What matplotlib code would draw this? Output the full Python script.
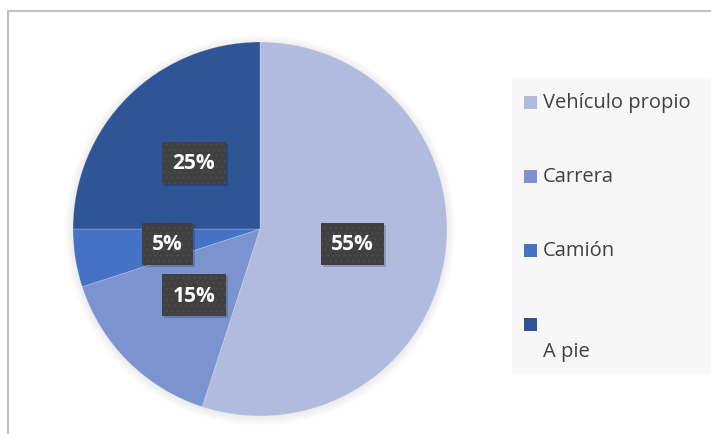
import numpy as np
import matplotlib.pyplot as plt
from matplotlib.patches import Rectangle, Circle
from matplotlib.transforms import IdentityTransform

# Medio de transporte utilizado
categorias = ["Vehículo propio", "Carrera", "Camión", "\nA pie"]
porcentajes = [55, 15, 5, 25]
colores = ["#b0bbdd", "#7b93cf", "#4472c4", "#2f5597"]

plt.rcParams['font.family'] = ['Open Sans', 'DejaVu Sans']

W, H = 711, 435
fig = plt.figure(figsize=(W / 100, H / 100), dpi=100)
fig.patch.set_facecolor('white')

# borde gris del area del grafico
fig.patches.append(Rectangle((8 / W, -0.05), 1.2, 1 - 12 / H + 0.05,
                             transform=fig.transFigure, fill=False,
                             edgecolor='#c0c0c0', linewidth=1.5))

# fondo del cuadro de leyenda
fig.patches.append(Rectangle((512 / W, (H - 375) / H), (W - 512) / W, 296 / H,
                             transform=fig.transFigure, facecolor='#f7f7f7',
                             edgecolor='none'))

cx, cy, r = 260, 230, 187
ax = fig.add_axes([(cx - r * 1.05) / W, (H - cy - r * 1.05) / H,
                   2.1 * r / W, 2.1 * r / H])

# sombra suave alrededor del circulo
for k in range(10):
    ax.add_patch(Circle((0.0, -0.005), 1.0 + 0.005 * k, color='#000000',
                        alpha=0.008, linewidth=0, zorder=0))

wedges, _ = ax.pie(porcentajes, colors=colores, startangle=90,
                   counterclock=False, radius=1.0,
                   wedgeprops=dict(linewidth=0.6, edgecolor='#ffffff40'))
ax.set_xlim(-1.05, 1.05)
ax.set_ylim(-1.05, 1.05)
ax.set_aspect('equal')
ax.axis('off')

# etiquetas de porcentaje con caja oscura
etiquetas = []
ang0 = 90.0
total = sum(porcentajes)
for v in porcentajes:
    ang = ang0 - 360.0 * v / total / 2
    ang0 -= 360.0 * v / total
    x = 0.5 * np.cos(np.radians(ang))
    y = 0.5 * np.sin(np.radians(ang))
    t = ax.text(x, y, f"{v}%", ha='center', va='center', color='white',
                fontsize=15, fontweight='bold', zorder=5,
                bbox=dict(boxstyle='square,pad=0.5', facecolor='#404040',
                          edgecolor='#4b4b4b', hatch='...', linewidth=0))
    etiquetas.append(t)

# sombra desplazada de cada caja, en pixeles
fig.canvas.draw()
for t in etiquetas:
    bb = t.get_bbox_patch().get_window_extent()
    ax.add_patch(Rectangle((bb.x0 + 2, bb.y0 - 2), bb.width, bb.height,
                           transform=IdentityTransform(), facecolor='#000000',
                           alpha=0.18, linewidth=0, zorder=4))

# leyenda
marcas_y = [103, 177, 251, 325]
for lab, col, my in zip(categorias, colores, marcas_y):
    fig.patches.append(Rectangle((524 / W, (H - my - 6.5) / H), 13 / W, 13 / H,
                                 transform=fig.transFigure, facecolor=col,
                                 edgecolor='none'))
    fig.text(543 / W, (H - my + 10) / H, lab, ha='left', va='top',
             fontsize=14.5, color='#404040', linespacing=1.5)

fig.savefig('out.png', dpi=100)
